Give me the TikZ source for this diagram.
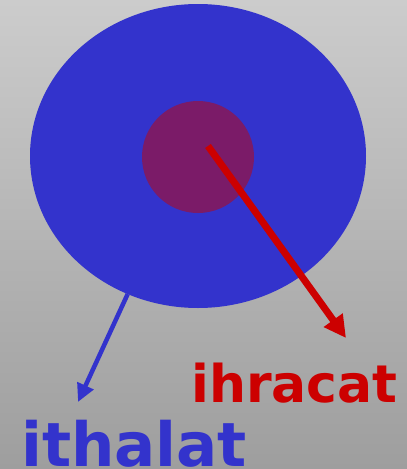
\documentclass[tikz,border=0pt]{standalone}
\usepackage{fontspec}
\setmainfont{DejaVu Sans}
\usetikzlibrary{arrows.meta,shapes.geometric}
\definecolor{bgtop}{RGB}{204,204,204}
\definecolor{bgbot}{RGB}{158,158,158}
\definecolor{discblue}{RGB}{51,51,204}
\definecolor{corepurple}{RGB}{123,27,104}
\definecolor{exportred}{RGB}{204,0,0}
\tikzset{
  flowred/.style={draw=exportred, line width=7pt, -{Triangle[length=22pt,width=22pt]}},
  flowblue/.style={draw=discblue, line width=4.5pt, -{Triangle[length=18pt,width=17pt]}},
  labeltext/.style={font=\bfseries, inner sep=0pt, anchor=base west}
}
\begin{document}
\begin{tikzpicture}[x=1pt,y=-1pt]
  \shade[top color=bgtop, bottom color=bgbot] (0,0) rectangle (407,469);
  \useasboundingbox (0,0) rectangle (407,469);
  \node (outer) [ellipse, fill=discblue, minimum width=336pt, minimum height=304pt, inner sep=0pt, outer sep=0pt] at (198,156) {};
  \node (inner) [circle, fill=corepurple, minimum size=112pt, inner sep=0pt, outer sep=0pt] at (198,157) {};
  \coordinate (redstart) at (208,146);
  \coordinate (redend) at (346,338);
  \coordinate (blueend) at (78,402);
  \draw[flowred] (redstart) -- (redend);
  \draw[flowblue] (outer.243) -- (blueend);
  \node (ihracat) [labeltext, text=exportred, font=\fontsize{52}{52}\selectfont\bfseries] at (191,402) {ihracat};
  \node (ithalat) [labeltext, text=discblue, font=\fontsize{61}{61}\selectfont\bfseries] at (21,466) {ithalat};
\end{tikzpicture}
\end{document}
